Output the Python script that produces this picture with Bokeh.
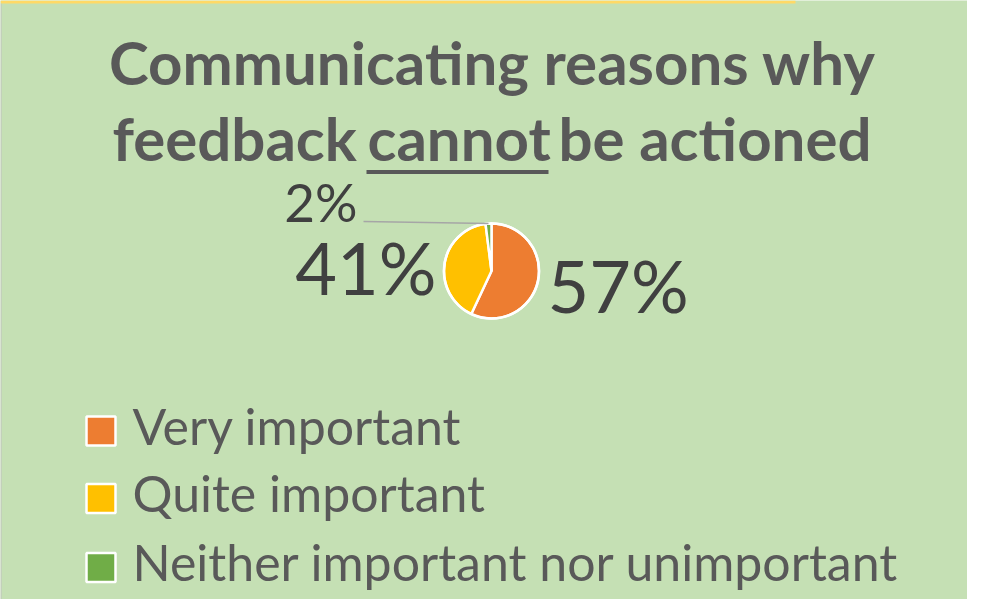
import math
from bokeh.plotting import figure
from bokeh.models import Range1d, ColumnDataSource
from bokeh.core.properties import value
from bokeh.embed import file_html
from bokeh.resources import INLINE

# ---- data ----
categories = ["Very important", "Quite important", "Neither important nor unimportant"]
shares = [57, 41, 2]
colors = ["#ED7D31", "#FFC000", "#70AD47"]
label_texts = ["57%", "41%", "2%"]
title_line1 = "Communicating reasons why"
title_line2 = ["feedback", "cannot", "be actioned"]

W, H = 967, 599
p = figure(width=W, height=H, output_backend="svg", toolbar_location=None,
           x_range=Range1d(0, W), y_range=Range1d(-H, 0),
           min_border=0, x_axis_location=None, y_axis_location=None)
p.grid.visible = False
p.outline_line_color = None
p.background_fill_color = "#C5E0B4"
p.border_fill_color = "#C5E0B4"

FONT = "Lato"
TITLE_C = "#595959"
K = 0.40  # empirical baseline correction (em)


def by(base, size):
    return -(base - K * size)


# ---- frame accents ----
p.quad(left=[0], right=[795], top=[0], bottom=[-3], fill_color="#FFD966", line_color=None)
p.segment(x0=[0.5], y0=[-3], x1=[0.5], y1=[-H], line_color="#BFBFBF", line_width=1)

# ---- title ----
TS = 60
p.text(x=[492], y=[by(85, TS)], text=[title_line1], text_font=value(FONT), text_font_style="bold",
       text_font_size=f"{TS}px", text_color=TITLE_C, text_align="center", text_baseline="alphabetic")
x_starts = [112, 367, 558]
p.text(x=x_starts, y=[by(161, TS)] * 3, text=title_line2, text_font=value(FONT), text_font_style="bold",
       text_font_size=f"{TS}px", text_color=TITLE_C, text_align="left", text_baseline="alphabetic")
p.segment(x0=[366], y0=[-171.5], x1=[548], y1=[-171.5], line_color=TITLE_C, line_width=4)

# ---- pie ----
total = sum(shares)
starts, ends = [], []
cum = 0.0
for v in shares:
    starts.append(math.pi / 2 - 2 * math.pi * cum / total)
    cum += v
    ends.append(math.pi / 2 - 2 * math.pi * cum / total)
cx, cy, r = 491, -270.5, 47.5
src = ColumnDataSource(dict(start=starts, end=ends, color=colors, cat=categories))
p.wedge(x=cx, y=cy, radius=r, start_angle="start", end_angle="end", direction="clock",
        fill_color="color", line_color="white", line_width=2.5, source=src)
p.circle(x=[cx], y=[cy], radius=r, fill_color=None, line_color="white", line_width=2.5)

# ---- data labels ----
LBL_C = "#404040"
p.text(x=[547], y=[by(313, 72)], text=[label_texts[0]], text_font=value(FONT), text_font_size="72px",
       text_color=LBL_C, text_align="left", text_baseline="alphabetic")
p.text(x=[436], y=[by(295, 72)], text=[label_texts[1]], text_font=value(FONT), text_font_size="72px",
       text_color=LBL_C, text_align="right", text_baseline="alphabetic")
p.text(x=[357], y=[by(222, 53)], text=[label_texts[2]], text_font=value(FONT), text_font_size="53px",
       text_color=LBL_C, text_align="right", text_baseline="alphabetic")
p.line(x=[363, 488], y=[-221, -223], line_color="#A6A6A6", line_width=1.5)

# ---- legend ----
LS = 50
row_y = [-430.5, -498, -567]
p.rect(x=[100.5] * 3, y=row_y, width=29, height=29, fill_color=colors,
       line_color="white", line_width=2.5)
p.text(x=[132] * 3, y=[by(-y + 14.5, LS) for y in row_y], text=categories, text_font=value(FONT),
       text_font_size=f"{LS}px", text_color=TITLE_C, text_align="left", text_baseline="alphabetic")

open("out.html", "w").write(file_html(p, INLINE))
